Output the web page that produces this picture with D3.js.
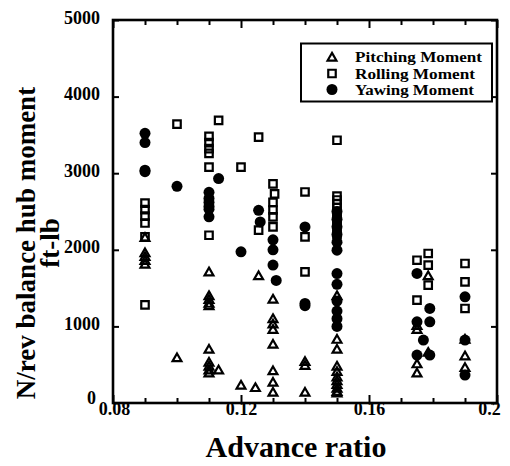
<!DOCTYPE html>
<html>
<head>
<meta charset="utf-8">
<script src="https://cdn.jsdelivr.net/npm/d3@7"></script>
<style>
  body { margin: 0; background: #fff; }
  svg { display: block; }
</style>
</head>
<body>
<svg id="chart" width="510" height="466"></svg>
<script>
// ---- data ----
const seriesNames = ["Pitching Moment", "Rolling Moment", "Yawing Moment"];

const pitchingData = [
  [0.09, 2150], [0.09, 1950], [0.09, 1900], [0.09, 1850], [0.09, 1800],
  [0.10, 580],
  [0.11, 1700], [0.11, 1390], [0.11, 1340], [0.11, 1290], [0.11, 1260],
  [0.11, 690], [0.11, 520], [0.11, 470], [0.11, 420], [0.11, 380],
  [0.113, 420],
  [0.12, 222],
  [0.1245, 190], [0.1255, 1650],
  [0.13, 1345], [0.13, 1090], [0.13, 1020], [0.13, 950], [0.13, 756],
  [0.13, 410], [0.13, 260], [0.13, 130],
  [0.14, 530], [0.14, 480], [0.14, 130],
  [0.15, 1390], [0.15, 820], [0.15, 690], [0.15, 470], [0.15, 400],
  [0.15, 330], [0.15, 280], [0.15, 230], [0.15, 180], [0.15, 140], [0.15, 120],
  [0.175, 1000], [0.175, 950], [0.175, 500], [0.175, 380],
  [0.1785, 1650], [0.1785, 650],
  [0.19, 821], [0.19, 604], [0.19, 452]
];

const rollingData = [
  [0.09, 2610], [0.09, 2525], [0.09, 2440], [0.09, 2350], [0.09, 2170], [0.09, 1280],
  [0.10, 3640],
  [0.11, 3480], [0.11, 3400], [0.11, 3320], [0.11, 3260], [0.11, 3080], [0.11, 2190],
  [0.113, 3690],
  [0.12, 3080],
  [0.1255, 3470], [0.1255, 2256],
  [0.13, 2860], [0.1305, 2730], [0.13, 2620], [0.13, 2520], [0.13, 2430], [0.13, 2300],
  [0.14, 2755], [0.14, 2168], [0.14, 1712],
  [0.15, 3430], [0.15, 2700], [0.15, 2650], [0.15, 2600], [0.15, 2550], [0.15, 2480],
  [0.15, 2420], [0.15, 2380], [0.15, 2330], [0.15, 2280], [0.15, 2200],
  [0.175, 1864], [0.175, 1343],
  [0.1785, 1952], [0.1785, 1800], [0.1785, 1538],
  [0.19, 1821], [0.19, 1582], [0.19, 1234]
];

const yawingData = [
  [0.09, 3520], [0.09, 3400], [0.09, 3040], [0.09, 3020],
  [0.10, 2829],
  [0.11, 2750], [0.11, 2670], [0.11, 2620], [0.11, 2570], [0.11, 2530], [0.11, 2430],
  [0.113, 2930],
  [0.12, 1973],
  [0.1255, 2516], [0.126, 2364],
  [0.13, 2130], [0.13, 2000], [0.13, 1800], [0.131, 1600],
  [0.14, 2299], [0.14, 1300], [0.14, 1270],
  [0.15, 2500], [0.15, 2400], [0.15, 2300], [0.15, 2200], [0.15, 2100], [0.15, 1995],
  [0.15, 1690], [0.15, 1550], [0.15, 1330], [0.15, 1200], [0.15, 1100], [0.15, 1000],
  [0.175, 1691], [0.175, 1060], [0.175, 626],
  [0.179, 1234], [0.179, 1060], [0.177, 821], [0.179, 626],
  [0.19, 1386], [0.19, 821], [0.19, 365]
];

const xMajorTicks = [0.08, 0.12, 0.16, 0.2];
const xTickLabels = ["0.08", "0.12", "0.16", "0.2"];
const xMinorTicks = [0.09, 0.10, 0.11, 0.13, 0.14, 0.15, 0.17, 0.18, 0.19];
const yTicks = [0, 1000, 2000, 3000, 4000, 5000];
const xTitle = "Advance ratio";
const yTitleLines = ["N/rev balance hub moment", "ft-lb"];

// ---- layout ----
const FONT = "'Liberation Serif', 'Times New Roman', serif";
const svg = d3.select("#chart");
const L = 113, R = 497, T = 20, B = 403;
const x = d3.scaleLinear().domain([0.08, 0.2]).range([L, R]);
const y = d3.scaleLinear().domain([0, 5000]).range([B, T]);

const axisStroke = 2.6;

svg.append("rect").attr("x", L).attr("y", T).attr("width", R - L).attr("height", B - T)
  .attr("fill", "none").attr("stroke", "#000").attr("stroke-width", axisStroke);

function styleAxis(g) {
  g.select(".domain").remove();
  g.selectAll(".tick line").attr("stroke", "#000").attr("stroke-width", 2);
  g.selectAll("text").style("font-size", "18px").style("font-family", FONT)
    .style("font-weight", "bold").attr("fill", "#000");
}

// bottom major
const gB = svg.append("g").attr("transform", `translate(0,${B})`)
  .call(d3.axisBottom(x).tickValues(xMajorTicks).tickFormat((d, i) => xTickLabels[i]).tickSizeInner(-8).tickSizeOuter(0).tickPadding(0));
styleAxis(gB);
gB.selectAll("text").attr("y", 1).attr("dy", "0.6em")
  .attr("x", d => d === 0.2 ? -8 : (d === 0.08 ? 1 : 0));
svg.append("g").attr("transform", `translate(0,${B})`)
  .call(d3.axisBottom(x).tickValues(xMinorTicks).tickFormat("").tickSizeInner(-5).tickSizeOuter(0)).call(styleAxis);
// top
svg.append("g").attr("transform", `translate(0,${T})`)
  .call(d3.axisTop(x).tickValues(xMajorTicks).tickFormat("").tickSizeInner(-8).tickSizeOuter(0)).call(styleAxis);
svg.append("g").attr("transform", `translate(0,${T})`)
  .call(d3.axisTop(x).tickValues(xMinorTicks).tickFormat("").tickSizeInner(-5).tickSizeOuter(0)).call(styleAxis);
// left
const gL = svg.append("g").attr("transform", `translate(${L},0)`)
  .call(d3.axisLeft(y).tickValues(yTicks).tickFormat(d3.format("d")).tickSizeInner(-6).tickSizeOuter(0).tickPadding(13));
styleAxis(gL);
gL.selectAll("text").attr("dy", d => d === 0 ? "0.05em" : "0.17em")
  .attr("x", d => d === 0 ? -17 : -13);
// right
svg.append("g").attr("transform", `translate(${R},0)`)
  .call(d3.axisRight(y).tickValues(yTicks).tickFormat("").tickSizeInner(-6).tickSizeOuter(0)).call(styleAxis);

// titles
function boldText(sel, size) {
  return sel.style("font-family", FONT).style("font-weight", "bold").style("font-size", size + "px").attr("fill", "#000");
}
boldText(svg.append("text").attr("x", 296).attr("y", 457).attr("text-anchor", "middle"), 30).text(xTitle);
const yMid = 243;
boldText(svg.append("text").attr("transform", `translate(35,${yMid}) rotate(-90)`).attr("text-anchor", "middle"), 27)
  .text(yTitleLines[0]);
boldText(svg.append("text").attr("transform", `translate(59,${yMid}) rotate(-90)`).attr("text-anchor", "middle"), 27)
  .text(yTitleLines[1]);

// markers
const triPath = d3.symbol().type(d3.symbolTriangle).size(34)();
const sqPath = d3.symbol().type(d3.symbolSquare).size(56)();
const mStroke = 2.2;

svg.append("g").selectAll("path").data(rollingData).join("path")
  .attr("d", sqPath).attr("transform", d => `translate(${x(d[0])},${y(d[1])})`)
  .attr("fill", "none").attr("stroke", "#000").attr("stroke-width", mStroke);
svg.append("g").selectAll("path").data(pitchingData).join("path")
  .attr("d", triPath).attr("transform", d => `translate(${x(d[0])},${y(d[1])})`)
  .attr("fill", "none").attr("stroke", "#000").attr("stroke-width", mStroke);
svg.append("g").selectAll("circle").data(yawingData).join("circle")
  .attr("cx", d => x(d[0])).attr("cy", d => y(d[1])).attr("r", 5.5).attr("fill", "#000");

// legend
const leg = svg.append("g");
leg.append("rect").attr("x", 301).attr("y", 43.5).attr("width", 191).attr("height", 58)
  .attr("fill", "#fff").attr("stroke", "#000").attr("stroke-width", 2);
const legRows = [57, 73.5, 89.5];
leg.append("path").attr("d", triPath).attr("transform", `translate(332,${legRows[0] + 1})`)
  .attr("fill", "none").attr("stroke", "#000").attr("stroke-width", mStroke);
leg.append("path").attr("d", sqPath).attr("transform", `translate(332,${legRows[1]})`)
  .attr("fill", "none").attr("stroke", "#000").attr("stroke-width", mStroke);
leg.append("circle").attr("cx", 332).attr("cy", legRows[2]).attr("r", 5.5).attr("fill", "#000");
seriesNames.forEach((n, i) => {
  boldText(leg.append("text").attr("x", 355).attr("y", legRows[i]).attr("dy", "0.35em"), 15)
    .attr("textLength", 127 - (i === 0 ? 0 : (i === 1 ? 7 : 8))).attr("lengthAdjust", "spacingAndGlyphs")
    .text(n);
});
</script>
</body>
</html>
